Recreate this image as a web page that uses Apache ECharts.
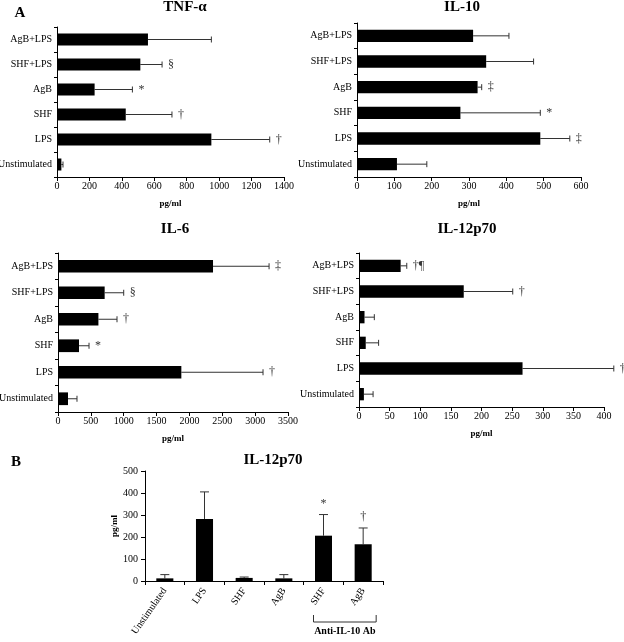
<!DOCTYPE html>
<html>
<head>
<meta charset="utf-8">
<script src="https://cdn.jsdelivr.net/npm/echarts@6/dist/echarts.min.js"></script>
<style>
html, body { margin: 0; padding: 0; background: #fff; }
#main { width: 624px; height: 642px; }
</style>
</head>
<body>
<div id="main"></div>
<script>
// categories (bottom -> top for the horizontal panels)
var cats = ['Unstimulated', 'LPS', 'SHF', 'AgB', 'SHF+LPS', 'AgB+LPS'];

// TNF-alpha
var tnfMean = [27, 952, 424, 232, 514, 561];
var tnfErr = [37, 1312, 709, 465, 648, 952];
var tnfMarks = ['', '\u2020', '\u2020', '*', '\u00a7', ''];

// IL-10
var il10Mean = [107, 491, 277, 323, 346, 311];
var il10Err = [187, 570, 491, 334, 473, 407];
var il10Marks = ['', '\u2021', '*', '\u2021', '', ''];

// IL-6
var il6Mean = [152, 1877, 320, 615, 710, 2359];
var il6Err = [289, 3120, 472, 898, 1000, 3212];
var il6Marks = ['', '\u2020', '*', '\u2020', '\u00a7', '\u2021'];

// IL-12p70
var il12Mean = [8, 267, 11, 9, 171, 68];
var il12Err = [23, 416, 32, 25, 251, 78];
var il12Marks = ['', '\u2020', '', '', '\u2020', '\u2020\u00b6'];

// panel B: IL-12p70 with anti-IL-10 antibody
var bCats = ['Unstimulated', 'LPS', 'SHF', 'AgB', 'SHF', 'AgB'];
var bMean = [12, 282, 14, 12, 206, 167];
var bErr = [29, 405, 18, 29, 302, 241];
var bMarks = ['', '', '', '', '*', '\u2020'];

var FONT = '"Liberation Serif","Times New Roman",serif';
var chart = echarts.init(document.getElementById('main'));

// one-sided error bar with cap, and the significance mark
function errBars(marks, horizontal) {
    return function (params, api) {
        var c = api.value(0), m = api.value(1), e = api.value(2);
        var mark = marks[params.dataIndex];
        var st = { stroke: '#333', lineWidth: 1 };
        var p0, p1, kids;
        if (horizontal) {
            p0 = api.coord([m, c]);
            p1 = api.coord([e, c]);
            kids = [
                { type: 'line', shape: { x1: p0[0], y1: p0[1], x2: p1[0], y2: p1[1] }, style: st },
                { type: 'line', shape: { x1: p1[0], y1: p1[1] - 3, x2: p1[0], y2: p1[1] + 3 }, style: st }
            ];
            if (mark) kids.push({ type: 'text', x: p1[0] + 6, y: p1[1],
                style: { text: mark, fill: '#333', font: '12px ' + FONT, align: 'left', verticalAlign: 'middle' } });
        } else {
            p0 = api.coord([c, m]);
            p1 = api.coord([c, e]);
            kids = [
                { type: 'line', shape: { x1: p0[0], y1: p0[1], x2: p1[0], y2: p1[1] }, style: st },
                { type: 'line', shape: { x1: p1[0] - 4.5, y1: p1[1], x2: p1[0] + 4.5, y2: p1[1] }, style: st }
            ];
            if (mark) kids.push({ type: 'text', x: p1[0], y: p1[1] - 5,
                style: { text: mark, fill: '#333', font: '12px ' + FONT, align: 'center', verticalAlign: 'bottom' } });
        }
        return { type: 'group', children: kids };
    };
}

var axisLine = { show: true, lineStyle: { color: '#000', width: 1 } };
var labelStyle = { color: '#000', fontFamily: FONT, fontSize: 10 };
var plain = function (v) { return String(v); };

var grids = [], xAxes = [], yAxes = [], series = [];

function hPanel(box, max, step, mean, err, marks) {
    var i = grids.length;
    grids.push(Object.assign({ outerBoundsMode: 'none', containLabel: false }, box));
    xAxes.push({
        type: 'value', gridIndex: i, min: 0, max: max, interval: step,
        axisLine: axisLine, splitLine: { show: false },
        axisTick: { show: true, length: 4, lineStyle: { color: '#000' } },
        axisLabel: Object.assign({ margin: 4, formatter: plain }, labelStyle),
        name: 'pg/ml', nameLocation: 'middle', nameGap: 22,
        nameTextStyle: { fontFamily: FONT, fontSize: 9, fontWeight: 'bold', color: '#000' }
    });
    yAxes.push({
        type: 'category', gridIndex: i, data: cats,
        axisLine: axisLine,
        axisTick: { show: true, length: 3, lineStyle: { color: '#000' } },
        axisLabel: Object.assign({ margin: 5 }, labelStyle)
    });
    series.push({
        type: 'bar', xAxisIndex: i, yAxisIndex: i, data: mean,
        barWidth: '48%', itemStyle: { color: '#000' }, silent: true
    });
    series.push({
        type: 'custom', xAxisIndex: i, yAxisIndex: i, clip: false,
        renderItem: errBars(marks, true),
        encode: { x: [1, 2], y: 0 },
        data: cats.map(function (c, k) { return [k, mean[k], err[k]]; })
    });
}

hPanel({ left: 57, top: 27, width: 227, height: 150 }, 1400, 200, tnfMean, tnfErr, tnfMarks);
hPanel({ left: 357, top: 23, width: 224, height: 154 }, 600, 100, il10Mean, il10Err, il10Marks);
hPanel({ left: 58, top: 253, width: 230, height: 159 }, 3500, 500, il6Mean, il6Err, il6Marks);
hPanel({ left: 359, top: 253, width: 245, height: 154 }, 400, 50, il12Mean, il12Err, il12Marks);

// panel B, vertical bars
grids.push({ left: 145, top: 471, width: 238, height: 110, outerBoundsMode: 'none', containLabel: false });
xAxes.push({
    type: 'category', gridIndex: 4, data: bCats,
    axisLine: axisLine,
    axisTick: { show: true, length: 4, lineStyle: { color: '#000' } },
    axisLabel: Object.assign({ margin: 8, rotate: 55, interval: 0 }, labelStyle)
});
yAxes.push({
    type: 'value', gridIndex: 4, min: 0, max: 500, interval: 100,
    axisLine: axisLine, splitLine: { show: false },
    axisTick: { show: true, length: 4, lineStyle: { color: '#000' } },
    axisLabel: Object.assign({ margin: 7, formatter: plain }, labelStyle),
    name: 'pg/ml', nameLocation: 'middle', nameGap: 26,
    nameTextStyle: { fontFamily: FONT, fontSize: 9, fontWeight: 'bold', color: '#000' }
});
series.push({
    type: 'bar', xAxisIndex: 4, yAxisIndex: 4, data: bMean,
    barWidth: '43%', itemStyle: { color: '#000' }, silent: true
});
series.push({
    type: 'custom', xAxisIndex: 4, yAxisIndex: 4, clip: false,
    renderItem: errBars(bMarks, false),
    encode: { x: 0, y: [1, 2] },
    data: bCats.map(function (c, k) { return [k, bMean[k], bErr[k]]; })
});

chart.setOption({
    animation: false,
    backgroundColor: '#fff',
    textStyle: { fontFamily: FONT },
    grid: grids,
    xAxis: xAxes,
    yAxis: yAxes,
    series: series
});

// titles, panel letters and the anti-IL-10 bracket
function txt(id, s, x, y, size, align) {
    return { type: 'text', id: id, x: x, y: y, silent: true,
        style: { text: s, fill: '#000', font: 'bold ' + size + 'px ' + FONT,
            align: align || 'center', verticalAlign: 'middle' } };
}
var a = chart.convertToPixel({ gridIndex: 4 }, [4, 0]);
var b = chart.convertToPixel({ gridIndex: 4 }, [5, 0]);
var bx1 = a[0] - 10, bx2 = b[0] + 13, by = a[1] + 41;
chart.setOption({
    graphic: [
        txt('A', 'A', 20, 13, 15),
        txt('t1', 'TNF-\u03b1', 185, 7, 15),
        txt('t2', 'IL-10', 462, 7, 15),
        txt('t3', 'IL-6', 175, 229, 15),
        txt('t4', 'IL-12p70', 467, 229, 15),
        txt('B', 'B', 16, 462, 15),
        txt('t5', 'IL-12p70', 273, 460, 15),
        { type: 'polyline', id: 'br', silent: true,
          shape: { points: [[bx1, by - 7], [bx1, by], [bx2, by], [bx2, by - 7]] },
          style: { stroke: '#333', lineWidth: 1, fill: null } },
        txt('br_t', 'Anti-IL-10 Ab', (bx1 + bx2) / 2, by + 9, 10)
    ]
});
</script>
</body>
</html>
